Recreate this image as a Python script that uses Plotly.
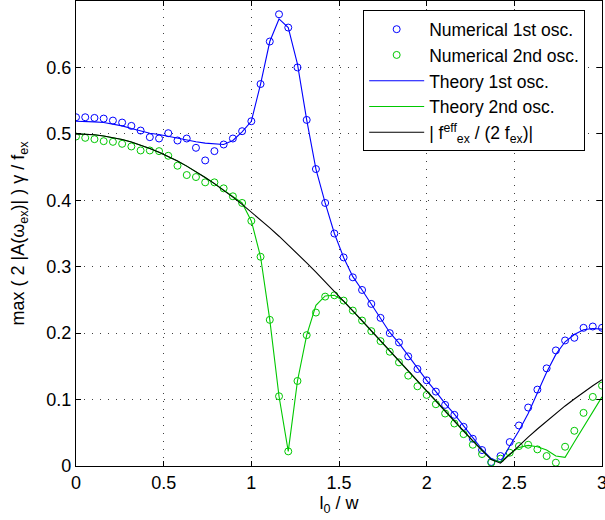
import numpy as np
import plotly.graph_objects as go

# x grid: 58 equally spaced samples of l0/w from 0 to 3
l0 = np.linspace(0, 3, 58)

num_1st = [0.525, 0.525, 0.524, 0.523, 0.520, 0.517, 0.512, 0.505, 0.495, 0.493,
           0.501, 0.490, 0.493, 0.479, 0.460, 0.474, 0.484, 0.493, 0.504, 0.519,
           0.575, 0.639, 0.680, 0.660, 0.600, 0.521, 0.447, 0.396, 0.350, 0.314,
           0.284, 0.265, 0.244, 0.223, 0.200, 0.186, 0.165, 0.146, 0.129, 0.112,
           0.092, 0.077, 0.059, 0.041, 0.024, 0.006, 0.015, 0.036, 0.061, 0.088,
           0.115, 0.147, 0.174, 0.189, 0.193, 0.208, 0.210, 0.208]

num_2nd = [0.496, 0.494, 0.492, 0.489, 0.488, 0.485, 0.481, 0.475, 0.475, 0.474,
           0.467, 0.452, 0.438, 0.435, 0.427, 0.427, 0.418, 0.406, 0.396, 0.369,
           0.315, 0.220, 0.105, 0.022, 0.128, 0.197, 0.231, 0.255, 0.257, 0.249,
           0.234, 0.219, 0.203, 0.188, 0.172, 0.156, 0.136, 0.120, 0.107, 0.093,
           0.079, 0.064, 0.048, 0.032, 0.018, 0.005, 0.011, 0.020, 0.030, 0.032,
           0.025, 0.015, 0.005, 0.029, 0.053, 0.080, 0.104, 0.121]

theory_1st = [0.519, 0.519, 0.518, 0.517, 0.515, 0.512, 0.508, 0.504, 0.501, 0.499,
              0.496, 0.493, 0.490, 0.488, 0.486, 0.485, 0.484, 0.490, 0.503, 0.519,
              0.575, 0.639, 0.673, 0.660, 0.605, 0.521, 0.447, 0.396, 0.350, 0.314,
              0.285, 0.265, 0.244, 0.222, 0.201, 0.185, 0.166, 0.147, 0.129, 0.112,
              0.094, 0.078, 0.060, 0.042, 0.025, 0.011, 0.006, 0.030, 0.053, 0.079,
              0.110, 0.141, 0.168, 0.187, 0.198, 0.205, 0.207, 0.206]

theory_2nd = [0.5000, 0.4997, 0.4986, 0.4969, 0.4945, 0.4914, 0.4876, 0.4832, 0.4781, 0.4723,
              0.4660, 0.4590, 0.4514, 0.4432, 0.4344, 0.4251, 0.4152, 0.4048, 0.396, 0.369,
              0.315, 0.220, 0.105, 0.022, 0.128, 0.197, 0.242, 0.256, 0.257, 0.2485,
              0.2337, 0.2187, 0.2036, 0.1883, 0.1731, 0.1578, 0.1424, 0.1271, 0.1119, 0.0969,
              0.0818, 0.0670, 0.0523, 0.0378, 0.0235, 0.0096, 0.006, 0.018, 0.028, 0.031,
              0.029, 0.024, 0.015, 0.013, 0.036, 0.059, 0.082, 0.104]

f_eff_ratio = [0.5000, 0.4997, 0.4986, 0.4969, 0.4945, 0.4914, 0.4876, 0.4832, 0.4781, 0.4723,
               0.4660, 0.4590, 0.4514, 0.4432, 0.4344, 0.4251, 0.4152, 0.4048, 0.3939, 0.3826,
               0.3708, 0.3586, 0.3459, 0.3329, 0.3196, 0.3059, 0.2920, 0.2777, 0.2632, 0.2485,
               0.2337, 0.2187, 0.2036, 0.1883, 0.1731, 0.1578, 0.1424, 0.1271, 0.1119, 0.0969,
               0.0818, 0.0670, 0.0523, 0.0378, 0.0235, 0.0096, 0.0042, 0.0176, 0.0307, 0.0434,
               0.0557, 0.0677, 0.0791, 0.0904, 0.1008, 0.1112, 0.1207, 0.1300]

x_ticks = [0, 0.5, 1, 1.5, 2, 2.5, 3]
x_ticktext = ["0", "0.5", "1", "1.5", "2", "2.5", "3"]
y_ticks = [0, 0.1, 0.2, 0.3, 0.4, 0.5, 0.6]
y_ticktext = ["0", "0.1", "0.2", "0.3", "0.4", "0.5", "0.6"]

BLUE = "rgb(0,0,255)"
GREEN = "rgb(0,200,0)"
FONT = "Liberation Sans, Arial, sans-serif"
FS = 18

fig = go.Figure()
fig.add_trace(go.Scatter(x=l0, y=num_1st, mode="markers", name="Numerical 1st osc.",
                         marker=dict(symbol="circle-open", size=7, color=BLUE, line=dict(width=1, color=BLUE))))
fig.add_trace(go.Scatter(x=l0, y=num_2nd, mode="markers", name="Numerical 2nd osc.",
                         marker=dict(symbol="circle-open", size=7, color=GREEN, line=dict(width=1, color=GREEN))))
fig.add_trace(go.Scatter(x=l0, y=theory_1st, mode="lines", name="Theory 1st osc.",
                         line=dict(color=BLUE, width=1.1)))
fig.add_trace(go.Scatter(x=l0, y=theory_2nd, mode="lines", name="Theory 2nd osc.",
                         line=dict(color=GREEN, width=1.1)))
fig.add_trace(go.Scatter(x=l0, y=f_eff_ratio, mode="lines",
                         name="| f<sup>eff</sup><sub>ex</sub> / (2 f<sub>ex</sub>)|",
                         line=dict(color="black", width=1.1)))

axis_common = dict(
    showline=True, linecolor="black", linewidth=1.2, mirror="ticks",
    ticks="inside", ticklen=5, tickcolor="black", tickwidth=1,
    showgrid=True, gridcolor="rgba(0,0,0,0.75)", gridwidth=1, griddash="1px,7px",
    zeroline=False, tickfont=dict(family=FONT, size=FS, color="black"),
    ticklabeloverflow="allow",
)

fig.update_xaxes(range=[0, 3], tickvals=x_ticks, ticktext=x_ticktext,
                 title=dict(text="l<sub>0</sub> / w", font=dict(family=FONT, size=FS, color="black"), standoff=4),
                 **axis_common)
fig.update_yaxes(range=[0, 0.7], tickvals=y_ticks, ticktext=y_ticktext,
                 title=dict(text="max ( 2 |A(ω<sub>ex</sub>)| ) γ / f<sub>ex</sub>",
                            font=dict(family=FONT, size=FS, color="black"), standoff=16),
                 **axis_common)

fig.update_layout(
    width=605, height=520,
    margin=dict(l=76, r=3, t=1, b=54, autoexpand=False),
    paper_bgcolor="white", plot_bgcolor="white",
    font=dict(family=FONT, size=FS, color="black"),
    showlegend=True,
    legend=dict(x=0.968, y=0.98, xanchor="right", yanchor="top",
                bgcolor="white", bordercolor="black", borderwidth=1,
                font=dict(family=FONT, size=17.5, color="black"),
                itemwidth=55, tracegroupgap=0),
)

fig.write_html("out.html", config={"displayModeBar": False},
               post_script="document.body.style.margin='0';")
